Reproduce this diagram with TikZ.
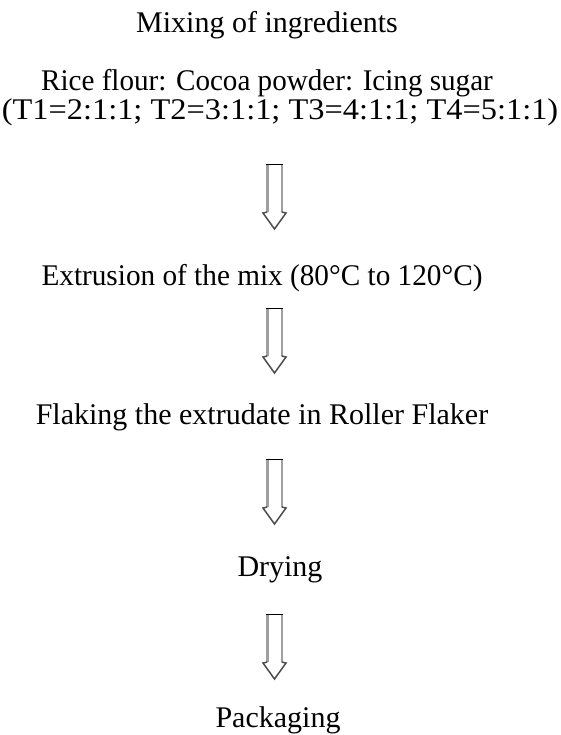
\documentclass[tikz,border=0pt]{standalone}
\usepackage{fontspec}
\setmainfont{Liberation Serif}
\begin{document}
\begin{tikzpicture}[x=1pt,y=1pt,
  lbl/.style={anchor=base,inner sep=0pt,font=\fontsize{30}{34}\selectfont},
  hollowarrow/.pic={
    \draw[gray!75,line width=2.4pt] (-7.2,-1) -- (-7.2,-48);
    \draw[gray!75,line width=2.4pt] (7.2,-1) -- (7.2,-48);
    \draw[black!70,line width=1.5pt,line join=miter] (-7.2,-48) -- (-11.5,-49) -- (0,-65) -- (11.5,-49) -- (7.2,-48);
    \draw[black,line width=1.3pt] (-8.4,-0.6) -- (8.4,-0.6);
  }]
\useasboundingbox (0,0) rectangle (561,-735);
\node[lbl] (mix) at (267,-33) {Mixing of ingredients};
\node[lbl] (ratio) at (267,-91) {\scalebox{0.97}[1]{Rice flour: Cocoa powder: Icing sugar}};
\node[lbl] (treat) at (280,-120) {\scalebox{1.08}[1]{(T1=2:1:1; T2=3:1:1; T3=4:1:1; T4=5:1:1)}};
\node[lbl] (extr) at (262,-285) {\scalebox{0.975}[1]{Extrusion of the mix (80\textdegree C to 120\textdegree C)}};
\node[lbl] (flak) at (262,-424) {Flaking the extrudate in Roller Flaker};
\node[lbl] (dry) at (280,-576) {Drying};
\node[lbl] (pack) at (278,-727) {Packaging};
\coordinate (a1) at (274.5,-164);
\coordinate (a2) at (274.5,-308);
\coordinate (a3) at (274.5,-459);
\coordinate (a4) at (274.5,-614);
\pic at (a1) {hollowarrow};
\pic at (a2) {hollowarrow};
\pic at (a3) {hollowarrow};
\pic at (a4) {hollowarrow};
\end{tikzpicture}
\end{document}
